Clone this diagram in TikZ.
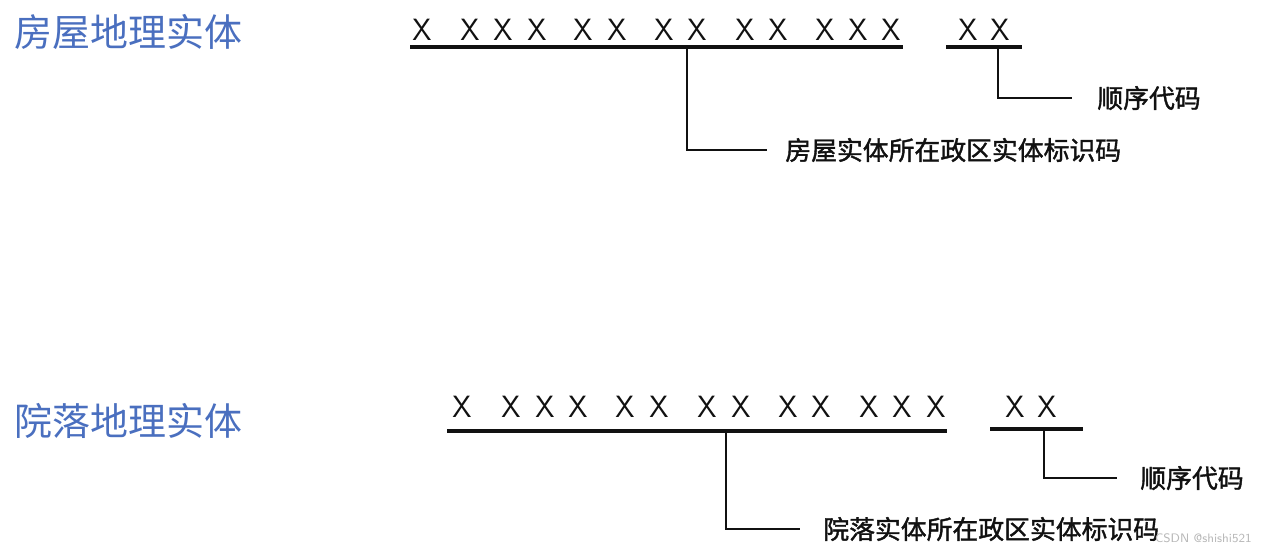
\documentclass[tikz,border=0pt]{standalone}
\usepackage{fontspec}
\usepackage{xcolor}
\usepackage{tikz}
\usetikzlibrary{positioning}
\newfontfamily\cjk{Noto Sans CJK SC}
\newfontfamily\cjkbold[FakeBold=1.5]{Noto Sans CJK SC}
\definecolor{cTitle}{HTML}{4A6FBF}
\definecolor{cInk}{HTML}{111111}
\definecolor{cMark}{HTML}{B8B8B8}
\tikzset{
  title/.style ={anchor=west,inner sep=0pt,text=cTitle,font=\cjk\fontsize{21.6}{24}\selectfont},
  xmark/.style ={inner sep=0pt,text=cInk,font=\sffamily\fontsize{17.5}{20}\selectfont},
  uline/.style ={cInk,line width=1.8pt},
  link/.style  ={cInk,line width=1.2pt},
  lbl/.style   ={anchor=west,inner sep=0pt,text=cInk,font=\cjkbold\fontsize{14.7}{17}\selectfont},
}

\begin{document}
\begin{tikzpicture}[x=0.02cm,y=-0.02cm]
  \useasboundingbox (0,0) rectangle (1264,552);

  % house entity
  \node[title] (t1) at (14,32) {房屋地理实体};
  \foreach \i/\x in {1/422,2/470,3/503,4/537,5/583,6/617,7/664,8/697,9/745,10/778,11/825,12/858,13/891,14/968,15/1000}
    \node[xmark] (ha\i) at (\x,30) {X};
  \coordinate (h1a) at (410,47);  \coordinate (h1b) at (903,47);
  \coordinate (h2a) at (946,47);  \coordinate (h2b) at (1022,47);
  \draw[uline] (h1a) -- (h1b);
  \draw[uline] (h2a) -- (h2b);
  \coordinate (hc1) at (687,47);
  \coordinate (hc2) at (998,47);
  \node[lbl] (hl1) at (785,150) {房屋实体所在政区实体标识码};
  \node[lbl] (hl2) at (1097,98) {顺序代码};
  \draw[link] (hc1) |- ([xshift=-10]hl1.west);
  \draw[link] (hc2) |- ([xshift=-14]hl2.west);

  % courtyard entity
  \node[title] (t2) at (14,421) {院落地理实体};
  \foreach \i/\x in {1/462,2/511,3/545,4/578,5/625,6/659,7/707,8/741,9/788,10/821,11/869,12/902,13/936,14/1015,15/1047}
    \node[xmark] (ca\i) at (\x,407) {X};
  \coordinate (c1a) at (447,431);  \coordinate (c1b) at (947,431);
  \coordinate (c2a) at (990,429);  \coordinate (c2b) at (1083,429);
  \draw[uline] (c1a) -- (c1b);
  \draw[uline] (c2a) -- (c2b);
  \coordinate (cc1) at (726,431);
  \coordinate (cc2) at (1044,429);
  \node[lbl] (cl1) at (823,529) {院落实体所在政区实体标识码};
  \node[lbl] (cl2) at (1140,478) {顺序代码};
  \draw[link] (cc1) |- ([xshift=-13]cl1.west);
  \draw[link] (cc2) |- ([xshift=-13]cl2.west);

  \node[anchor=east,inner sep=0pt,text=cMark,font=\sffamily\fontsize{7}{8}\selectfont] (wm) at (1252,538) {CSDN @shishi521};
\end{tikzpicture}
\end{document}
